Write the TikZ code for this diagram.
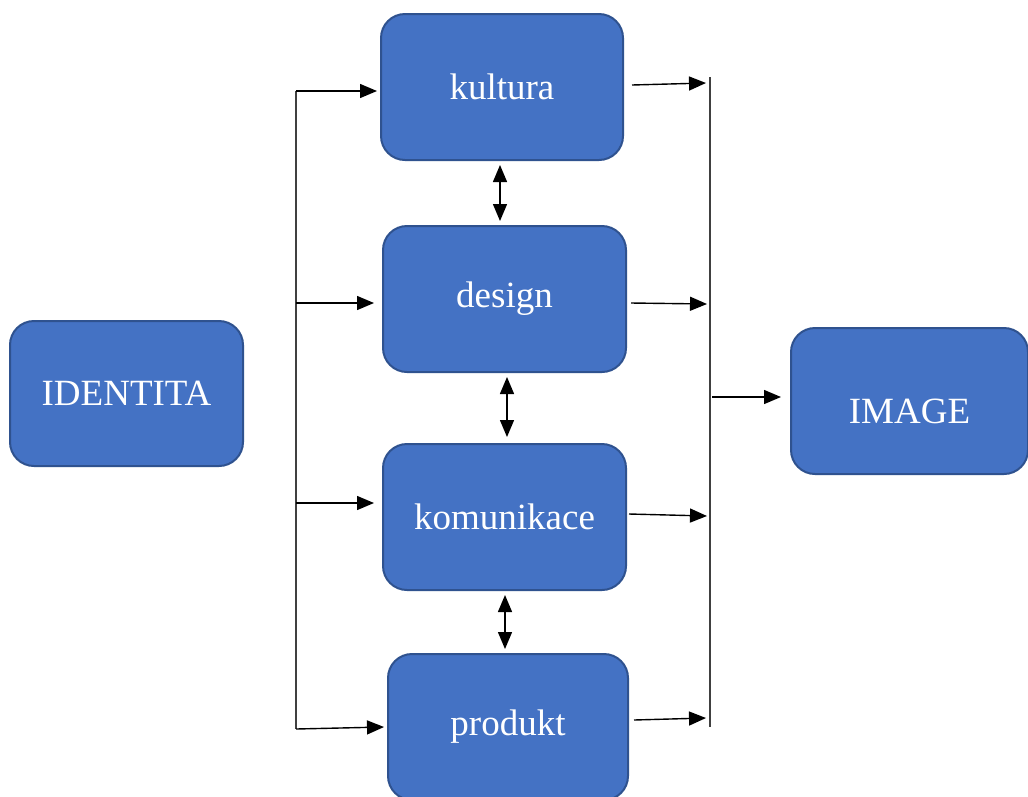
\documentclass[tikz,border=0pt]{standalone}
\usepackage{fontspec}
\setmainfont{Liberation Serif}
\usetikzlibrary{arrows.meta}
\definecolor{boxfill}{HTML}{4472C4}
\definecolor{boxline}{HTML}{2F528F}
\definecolor{vline}{HTML}{404040}
\begin{document}
\begin{tikzpicture}[x=1pt,y=-1pt,
  blk/.style={draw=boxline, line width=2pt, fill=boxfill, rounded corners=24pt,
    text=white, font=\fontsize{37}{42}\selectfont, inner sep=0pt},
  arr/.style={line width=1.4pt, -{Triangle[length=17pt,width=14pt]}},
  darr/.style={line width=1.4pt, {Triangle[length=17pt,width=14pt]}-{Triangle[length=17pt,width=14pt]}},
  bar/.style={draw=vline, line width=1.4pt}]
\useasboundingbox (0,0) rectangle (1028,796);
\fill[white] (0,0) rectangle (1028,796);

\node[blk, minimum width=233pt, minimum height=145pt] (identita) at (126.5,393.5) {IDENTITA};
\node[blk, minimum width=242pt, minimum height=146pt] (kultura) at (502,87) {kultura};
\node[blk, minimum width=243pt, minimum height=146pt] (design) at (504.5,299) {design};
\node[blk, minimum width=243pt, minimum height=146pt] (komunikace) at (504.5,517) {komunikace};
\node[blk, minimum width=240pt, minimum height=146pt] (produkt) at (508,727) {produkt};
\node[blk, minimum width=237pt, minimum height=146pt] (image) at (909.5,401) {\raisebox{-10pt}[\height][\depth]{IMAGE}};

% left distribution bar
\coordinate (lt) at (296,91);
\coordinate (l2) at (296,303);
\coordinate (l3) at (296,503);
\coordinate (lb) at (296,729);
\draw[bar] (lt) -- (lb);
\draw[arr] (lt) -- (377,91);
\draw[arr] (l2) -- (374,303);
\draw[arr] (l3) -- (374,503);
\draw[arr] (lb) -- (384,727);

% right collecting bar
\coordinate (rt) at (710,77);
\coordinate (rb) at (710,727);
\coordinate (rm) at (712,397);
\draw[bar] (rt) -- (rb);
\draw[arr] ([xshift=8pt,yshift=2pt]kultura.east) -- (706,83);
\draw[arr] ([xshift=4pt,yshift=-4pt]design.east) -- (707,304);
\draw[arr] ([xshift=2pt,yshift=3pt]komunikace.east) -- (707,516);
\draw[arr] ([xshift=5pt,yshift=7pt]produkt.east) -- (706,718);
\draw[arr] (rm) -- ([xshift=-9pt]rm -| image.west);

% double arrows between boxes
\draw[darr] ([xshift=-2pt,yshift=-4pt]kultura.south) -- ([xshift=-4.5pt,yshift=4pt]design.north);
\draw[darr] ([xshift=2.5pt,yshift=-4pt]design.south) -- ([xshift=2.5pt,yshift=6pt]komunikace.north);
\draw[darr] ([xshift=0.5pt,yshift=-4pt]komunikace.south) -- ([xshift=-3pt,yshift=4pt]produkt.north);
\end{tikzpicture}
\end{document}
